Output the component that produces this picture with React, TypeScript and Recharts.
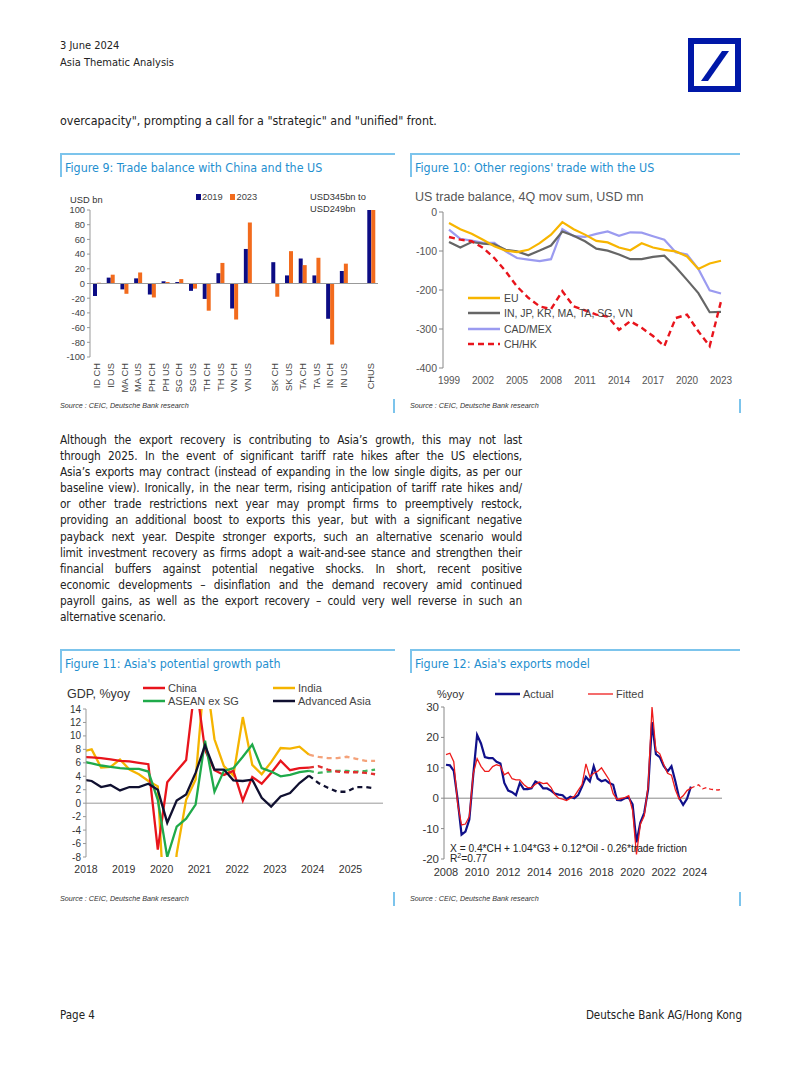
import React from 'react';
import { BarChart, Bar, LineChart, Line, XAxis, YAxis, ReferenceLine } from 'recharts';

const BODY_FONT = "'DejaVu Sans Condensed', 'Liberation Sans', Arial, sans-serif";
const CHART_FONT = "'Liberation Sans', Arial, sans-serif";
const TITLE_BLUE = '#1f8fcf';
const RULE_BLUE = '#7cc4ec';

// ---------- Figure 9 ----------
const fig9Categories = ['ID CH', 'ID US', 'MA CH', 'MA US', 'PH CH', 'PH US', 'SG CH', 'SG US', 'TH CH', 'TH US', 'VN CH', 'VN US', '', 'SK CH', 'SK US', 'TA CH', 'TA US', 'IN CH', 'IN US', '', 'CHUS'];
const fig9Values2019 = [-17, 8, -8, 7, -15, 3, 2, -10, -21, 14, -34, 47, null, 29, 11, 34, 11, -48, 17, null, 345];
const fig9Values2023 = [1, 12, -14, 15, -19, 2, 6, -7, -37, 28, -49, 83, null, -18, 44, 25, 35, -83, 27, null, 249];
const fig9Ticks = [-100, -80, -60, -40, -20, 0, 20, 40, 60, 80, 100];

// ---------- Figure 10 ----------
const fig10Years = ['1999', '2000', '2001', '2002', '2003', '2004', '2005', '2006', '2007', '2008', '2009', '2010', '2011', '2012', '2013', '2014', '2015', '2016', '2017', '2018', '2019', '2020', '2021', '2022', '2023'];
const fig10EU = [-28, -44, -56, -71, -88, -99, -103, -97, -80, -58, -26, -44, -58, -74, -78, -91, -98, -80, -91, -97, -101, -114, -146, -132, -125];
const fig10Asia = [-77, -91, -77, -81, -83, -97, -101, -111, -99, -86, -50, -61, -75, -94, -99, -109, -121, -121, -115, -112, -141, -174, -208, -257, -256];
const fig10CadMex = [-45, -69, -73, -79, -79, -101, -118, -122, -126, -121, -44, -62, -64, -56, -50, -61, -52, -53, -62, -71, -103, -109, -146, -201, -209];
const fig10ChHk = [-64, -71, -75, -92, -118, -152, -191, -220, -242, -249, -203, -242, -252, -263, -268, -302, -280, -297, -318, -344, -272, -263, -306, -344, -229];
const fig10Ticks = [-400, -300, -200, -100, 0];

// ---------- Figure 11 ----------
const fig11StartYear = 2018;
const fig11QuarterCount = 32;
const fig11ForecastStart = 24;
const fig11ChinaActual = [6.9, 6.8, 6.7, 6.5, 6.3, 6.2, 6.0, 5.8, -6.9, 3.1, 4.8, 6.4, 18.3, 7.9, 4.9, 4.2, 4.8, 0.4, 3.9, 2.9, 4.5, 6.3, 4.9, 5.2, 5.3];
const fig11ChinaForecast = [5.3, 5.5, 5.0, 4.7, 4.6, 4.6, 4.5, 4.3];
const fig11IndiaActual = [7.7, 8.0, 5.3, 5.4, 6.5, 5.0, 4.3, 3.3, 2.5, -23.9, -7.5, 0.5, 3.5, 20.1, 9.5, 5.5, 4.1, 12.8, 5.7, 4.3, 6.1, 8.2, 8.1, 8.4, 7.2];
const fig11IndiaForecast = [7.2, 6.9, 6.7, 6.7, 6.9, 6.6, 6.3, 6.3];
const fig11AseanActual = [6.2, 5.9, 5.6, 5.4, 5.2, 5.1, 5.1, 4.7, 0.5, -8.0, -3.5, -2.3, -0.2, 9.3, 1.7, 4.8, 5.2, 6.9, 8.7, 5.2, 4.7, 4.0, 4.2, 4.6, 4.8];
const fig11AseanForecast = [4.8, 4.5, 4.7, 4.8, 4.8, 4.7, 4.8, 5.0];
const fig11AdvActual = [3.5, 3.3, 2.4, 2.7, 1.9, 2.4, 2.4, 2.9, 2.0, -2.9, 0.4, 1.3, 4.5, 8.6, 5.0, 5.0, 3.4, 3.3, 3.5, 0.8, -0.5, 1.0, 1.5, 3.0, 4.1];
const fig11AdvForecast = [4.1, 3.0, 2.3, 1.7, 1.7, 2.4, 2.4, 2.2];
const fig11YearTicks = [2018, 2019, 2020, 2021, 2022, 2023, 2024, 2025];
const fig11YTicks = [-8, -6, -4, -2, 0, 2, 4, 6, 8, 10, 12, 14];

// ---------- Figure 12 ----------
const fig12StartYear = 2008;
const fig12QuarterCount = 72;
const fig12Actual = [11, 10.8, 9, -0.5, -12, -11, -7, 7.5, 20.8, 18, 13.5, 13.2, 13.2, 12, 11.4, 5, 2.5, 2, 1, 5, 3, 3, 3.3, 5.5, 4.8, 3.2, 3.2, 2.5, 1.5, 1.2, 1, -0.3, 0.5, 0, 1, 3.8, 7, 5.5, 10.5, 6.5, 5.6, 6, 5, 4.4, -0.6, -0.7, 0, 0.2, -2, -14.5, -8, -4.8, 3, 25, 14.5, 13.5, 10.6, 8.8, 10.5, 5.6, 0, -2.2, -0.2, 3.8];
const fig12Fitted = [14.3, 14.8, 12, -2, -8.8, -8.5, -6, 8, 13, 10.5, 8.8, 8.8, 10.4, 11, 10.6, 7.7, 8.5, 6.4, 6, 6, 4.5, 3.5, 3.5, 4.6, 5.3, 4.8, 5, 3.6, 1.2, 0, -0.3, -0.8, 0, 0.6, 2.6, 4.5, 11.3, 7, 8.2, 8.8, 10, 8, 6, 1.5, -0.4, -0.1, 0.2, 0.8, -4, -18.5, -8.6, -5.8, 4, 30, 15.6, 14.6, 11.2, 8.2, 7.6, 2.8, -0.3, 0.8, 2.5, 3.3];
const fig12FittedForecast = [3.3, 3.9, 4.4, 3.1, 3.5, 3.0, 2.8, 2.7, 3.0];
const fig12YTicks = [-20, -10, 0, 10, 20, 30];

// ---------- Text ----------
const bodyLines = [
  'Although the export recovery is contributing to Asia\u2019s growth, this may not last',
  'through 2025. In the event of significant tariff rate hikes after the US elections,',
  'Asia\u2019s exports may contract (instead of expanding in the low single digits, as per our',
  'baseline view). Ironically, in the near term, rising anticipation of tariff rate hikes and/',
  'or other trade restrictions next year may prompt firms to preemptively restock,',
  'providing an additional boost to exports this year, but with a significant negative',
  'payback next year. Despite stronger exports, such an alternative scenario would',
  'limit investment recovery as firms adopt a wait-and-see stance and strengthen their',
  'financial buffers against potential negative shocks. In short, recent positive',
  'economic developments \u2013 disinflation and the demand recovery amid continued',
  'payroll gains, as well as the export recovery \u2013 could very well reverse in such an',
  'alternative scenario.',
];

// ---------- Data tables ----------
const fig9Data = fig9Categories.map((c, i) => ({ cat: c, y2019: fig9Values2019[i], y2023: fig9Values2023[i] }));
const fig10Data = fig10Years.map((y, i) => ({ year: y, eu: fig10EU[i], asia: fig10Asia[i], cadmex: fig10CadMex[i], chhk: fig10ChHk[i] }));
const fig11Data = Array.from({ length: fig11QuarterCount }, (_, i) => {
  const f = i - fig11ForecastStart;
  return {
    t: fig11StartYear + i / 4,
    chinaA: i <= fig11ForecastStart ? fig11ChinaActual[i] : null,
    indiaA: i <= fig11ForecastStart ? fig11IndiaActual[i] : null,
    aseanA: i <= fig11ForecastStart ? fig11AseanActual[i] : null,
    advA: i <= fig11ForecastStart ? fig11AdvActual[i] : null,
    chinaF: f >= 0 ? fig11ChinaForecast[f] : null,
    indiaF: f >= 0 ? fig11IndiaForecast[f] : null,
    aseanF: f >= 0 ? fig11AseanForecast[f] : null,
    advF: f >= 0 ? fig11AdvForecast[f] : null,
  };
});
const fig12Data = Array.from({ length: fig12QuarterCount }, (_, i) => {
  const f = i - (fig12Actual.length - 1);
  return {
    q: `${fig12StartYear + Math.floor(i / 4)}Q${(i % 4) + 1}`,
    actual: i < fig12Actual.length ? fig12Actual[i] : null,
    fitted: i < fig12Fitted.length ? fig12Fitted[i] : null,
    fittedF: f >= 0 ? fig12FittedForecast[f] : null,
  };
});

// ---------- Helpers ----------
type TProps = { x: number; y: number; size: number; children: React.ReactNode; color?: string; family?: string; italic?: boolean; right?: boolean };
function T({ x, y, size, children, color = '#222', family = BODY_FONT, italic = false, right = false }: TProps) {
  const lh = Math.round(size * 1.25);
  const style: React.CSSProperties = {
    position: 'absolute', top: y - lh / 2, fontSize: size, lineHeight: lh + 'px', whiteSpace: 'nowrap',
    color, fontFamily: family, fontStyle: italic ? 'italic' : 'normal',
  };
  if (right) style.right = 802 - x; else style.left = x;
  return <div style={style}>{children}</div>;
}

function FigTitle({ x, y, w, text }: { x: number; y: number; w: number; text: string }) {
  return (
    <>
      <div style={{ position: 'absolute', left: x, top: y, width: w, height: 1.5, background: RULE_BLUE }} />
      <div style={{ position: 'absolute', left: x, top: y, width: 2, height: 24, background: RULE_BLUE }} />
      <T x={x + 5} y={y + 15} size={12.4} color={TITLE_BLUE}>{text}</T>
    </>
  );
}

function Source({ x, y, barX }: { x: number; y: number; barX: number }) {
  return (
    <>
      <T x={x} y={y} size={7.2} italic color="#333" family={CHART_FONT}>Source : CEIC, Deutsche Bank research</T>
      <div style={{ position: 'absolute', left: barX, top: y - 6, width: 2, height: 14, background: RULE_BLUE }} />
    </>
  );
}

function LegendItem({ x, y, w, color, width, dash, label, size, textGap = 4 }: { x: number; y: number; w: number; color: string; width: number; dash?: string; label: string; size: number; textGap?: number }) {
  return (
    <>
      <svg style={{ position: 'absolute', left: x, top: y - 3, overflow: 'visible' }} width={w} height={6}>
        <line x1={0} y1={3} x2={w} y2={3} stroke={color} strokeWidth={width} strokeDasharray={dash} />
      </svg>
      <T x={x + w + textGap} y={y} size={size} color="#444" family={CHART_FONT}>{label}</T>
    </>
  );
}

const Fig9Tick = (props: any) => {
  const { x, y, payload } = props;
  return (
    <text x={0} y={0} dy="0.35em" transform={`translate(${x},${y}) rotate(-90)`} textAnchor="end" fontSize={9.3} fill="#444" fontFamily={CHART_FONT}>
      {payload.value}
    </text>
  );
};

export default function App() {
  return (
    <div style={{ position: 'absolute', left: 0, top: 0, width: 802, height: 1068, background: '#fff', overflow: 'hidden', fontFamily: BODY_FONT }}>
      {/* Header */}
      <T x={60} y={46} size={11} color="#222">3 June 2024</T>
      <T x={60} y={63} size={11} color="#222">Asia Thematic Analysis</T>
      <svg style={{ position: 'absolute', left: 688, top: 38 }} width={54} height={55}>
        <rect x={3} y={3} width={47} height={48} fill="none" stroke="#0018a8" strokeWidth={6} />
        <polygon points="13,43 20,43 41,13 34,13" fill="#0018a8" />
      </svg>
      <T x={60} y={121} size={12.4}>overcapacity&quot;, prompting a call for a &quot;strategic&quot; and &quot;unified&quot; front.</T>

      {/* Figure 9 */}
      <FigTitle x={60} y={153} w={335} text="Figure 9: Trade balance with China and the US" />
      <T x={70} y={200} size={9.3} color="#333" family={CHART_FONT}>USD bn</T>
      <div style={{ position: 'absolute', left: 196, top: 194, width: 4.5, height: 5.5, background: '#0c0c84' }} />
      <T x={202} y={197} size={9.3} color="#444" family={CHART_FONT}>2019</T>
      <div style={{ position: 'absolute', left: 230, top: 194, width: 4.5, height: 5.5, background: '#f26b1d' }} />
      <T x={236.5} y={197} size={9.3} color="#444" family={CHART_FONT}>2023</T>
      <T x={310} y={197} size={9.3} color="#333" family={CHART_FONT}>USD345bn to</T>
      <T x={310} y={208.5} size={9.3} color="#333" family={CHART_FONT}>USD249bn</T>
      <div style={{ position: 'absolute', left: 55, top: 185, fontFamily: CHART_FONT }}>
        <BarChart width={335} height={215} data={fig9Data} margin={{ top: 25, right: 12, bottom: 5, left: 5 }} barGap={0} barSize={4}>
          <YAxis width={30} domain={[-100, 100]} ticks={fig9Ticks} interval={0} allowDataOverflow tick={{ fontSize: 9.3, fill: '#444' }} axisLine={{ stroke: '#999' }} tickLine={{ stroke: '#999' }} tickSize={3} />
          <XAxis dataKey="cat" interval={0} height={38} axisLine={false} tickLine={false} tickSize={0} tickMargin={6} tick={Fig9Tick} />
          <ReferenceLine y={0} stroke="#999" />
          <Bar dataKey="y2019" fill="#0c0c84" isAnimationActive={false} />
          <Bar dataKey="y2023" fill="#f26b1d" isAnimationActive={false} />
        </BarChart>
      </div>
      <Source x={60} y={405} barX={393} />

      {/* Figure 10 */}
      <FigTitle x={410} y={153} w={330} text="Figure 10: Other regions' trade with the US" />
      <T x={415} y={197} size={12.5} color="#555" family={CHART_FONT}>US trade balance, 4Q mov sum, USD mn</T>
      <div style={{ position: 'absolute', left: 405, top: 200, fontFamily: CHART_FONT }}>
        <LineChart width={345} height={195} data={fig10Data} margin={{ top: 12, right: 23, bottom: 5, left: 4 }}>
          <YAxis width={34} domain={[-400, 0]} ticks={fig10Ticks} interval={0} tick={{ fontSize: 10.5, fill: '#555' }} axisLine={{ stroke: '#888' }} tickLine={{ stroke: '#888' }} tickSize={4} />
          <XAxis dataKey="year" interval={2} padding={{ left: 6, right: 6 }} height={22} axisLine={false} tickLine={false} tickSize={0} tickMargin={9} tick={{ fontSize: 10, fill: '#555' }} />
          <Line type="linear" dataKey="cadmex" stroke="#9b9bf0" strokeWidth={2.2} dot={false} activeDot={false} isAnimationActive={false} />
          <Line type="linear" dataKey="asia" stroke="#666666" strokeWidth={2.2} dot={false} activeDot={false} isAnimationActive={false} />
          <Line type="linear" dataKey="eu" stroke="#f7b500" strokeWidth={2.2} dot={false} activeDot={false} isAnimationActive={false} />
          <Line type="linear" dataKey="chhk" stroke="#e8141c" strokeWidth={2.4} strokeDasharray="6 4" dot={false} activeDot={false} isAnimationActive={false} />
        </LineChart>
      </div>
      <LegendItem x={468} y={298} w={32} color="#f7b500" width={2.5} label="EU" size={10.5} />
      <LegendItem x={468} y={313} w={32} color="#666666" width={2.5} label="IN, JP, KR, MA, TA, SG, VN" size={10.5} />
      <LegendItem x={468} y={329} w={32} color="#9b9bf0" width={2.5} label="CAD/MEX" size={10.5} />
      <LegendItem x={468} y={344} w={32} color="#e8141c" width={2.5} dash="6 4" label="CH/HK" size={10.5} />
      <Source x={410} y={405} barX={739} />

      {/* Body text */}
      <div style={{ position: 'absolute', left: 60, top: 432, width: 462, fontSize: 11.8, letterSpacing: '-0.15px', lineHeight: '16.1px', fontFamily: BODY_FONT, color: '#222' }}>
        {bodyLines.map((l, i) => (
          <div key={i} style={{ whiteSpace: 'nowrap', textAlign: 'justify', textAlignLast: i < bodyLines.length - 1 ? 'justify' : 'left' }}>{l}</div>
        ))}
      </div>

      {/* Figure 11 */}
      <FigTitle x={60} y={649} w={335} text="Figure 11: Asia's potential growth path" />
      <T x={67} y={694} size={12.5} color="#333" family={CHART_FONT}>GDP, %yoy</T>
      <LegendItem x={143} y={688} w={22} color="#e8141c" width={2.5} label="China" size={11} textGap={3} />
      <LegendItem x={273} y={688} w={22} color="#f5b400" width={2.5} label="India" size={11} textGap={3} />
      <LegendItem x={143} y={701} w={22} color="#1faa4a" width={2.5} label="ASEAN ex SG" size={11} textGap={3} />
      <LegendItem x={273} y={701} w={22} color="#101030" width={2.5} label="Advanced Asia" size={11} textGap={3} />
      <div style={{ position: 'absolute', left: 55, top: 700, fontFamily: CHART_FONT }}>
        <LineChart width={335} height={185} data={fig11Data} margin={{ top: 9, right: 7, bottom: 6, left: 4 }}>
          <YAxis width={27} domain={[-8, 14]} ticks={fig11YTicks} interval={0} allowDataOverflow tick={{ fontSize: 10, fill: '#333' }} axisLine={{ stroke: '#999' }} tickLine={{ stroke: '#999' }} tickSize={3} />
          <XAxis dataKey="t" type="number" domain={[fig11StartYear + 0.1, 2025.96]} allowDataOverflow ticks={fig11YearTicks.map((y) => y + 0.1)} interval={0} tickFormatter={(v: number) => String(Math.floor(v))} height={22} axisLine={false} tickLine={false} tickSize={0} tickMargin={9} tick={{ fontSize: 10.5, fill: '#333' }} />
          <ReferenceLine y={0} stroke="#999" />
          <Line type="linear" dataKey="indiaF" stroke="#f4a27a" strokeWidth={2.3} strokeDasharray="5 4" dot={false} activeDot={false} isAnimationActive={false} />
          <Line type="linear" dataKey="aseanF" stroke="#3cb45a" strokeWidth={2.3} strokeDasharray="5 4" dot={false} activeDot={false} isAnimationActive={false} />
          <Line type="linear" dataKey="chinaF" stroke="#e03030" strokeWidth={2.3} strokeDasharray="5 4" dot={false} activeDot={false} isAnimationActive={false} />
          <Line type="linear" dataKey="advF" stroke="#101030" strokeWidth={2.3} strokeDasharray="5 4" dot={false} activeDot={false} isAnimationActive={false} />
          <Line type="linear" dataKey="indiaA" stroke="#f5b400" strokeWidth={2.3} dot={false} activeDot={false} isAnimationActive={false} />
          <Line type="linear" dataKey="chinaA" stroke="#e8141c" strokeWidth={2.3} dot={false} activeDot={false} isAnimationActive={false} />
          <Line type="linear" dataKey="aseanA" stroke="#1faa4a" strokeWidth={2.3} dot={false} activeDot={false} isAnimationActive={false} />
          <Line type="linear" dataKey="advA" stroke="#101030" strokeWidth={2.3} dot={false} activeDot={false} isAnimationActive={false} />
        </LineChart>
      </div>
      <Source x={60} y={898} barX={393} />

      {/* Figure 12 */}
      <FigTitle x={410} y={649} w={330} text="Figure 12: Asia's exports model" />
      <T x={437} y={694} size={11} color="#333" family={CHART_FONT}>%yoy</T>
      <LegendItem x={495} y={694} w={25} color="#10108a" width={2.5} label="Actual" size={11} textGap={3} />
      <LegendItem x={588} y={694} w={25} color="#ee1c1c" width={1.3} label="Fitted" size={11} textGap={3} />
      <div style={{ position: 'absolute', left: 405, top: 700, fontFamily: CHART_FONT }}>
        <LineChart width={330} height={185} data={fig12Data} margin={{ top: 7, right: 13, bottom: 4, left: 4 }}>
          <YAxis width={35} domain={[-20, 30]} ticks={fig12YTicks} interval={0} tick={{ fontSize: 11.5, fill: '#333' }} axisLine={{ stroke: '#888' }} tickLine={{ stroke: '#888' }} tickSize={3} />
          <XAxis dataKey="q" interval={7} padding={{ left: 2, right: 0 }} tickFormatter={(v: string) => v.slice(0, 4)} height={22} axisLine={false} tickLine={false} tickSize={0} tickMargin={9} tick={{ fontSize: 11, fill: '#333' }} />
          <ReferenceLine y={0} stroke="#888" />
          <Line type="linear" dataKey="actual" stroke="#10108a" strokeWidth={2.2} dot={false} activeDot={false} isAnimationActive={false} />
          <Line type="linear" dataKey="fitted" stroke="#ee1c1c" strokeWidth={1.3} dot={false} activeDot={false} isAnimationActive={false} />
          <Line type="linear" dataKey="fittedF" stroke="#ee1c1c" strokeWidth={1.3} strokeDasharray="4 3" dot={false} activeDot={false} isAnimationActive={false} />
        </LineChart>
      </div>
      <T x={450} y={848} size={10.2} color="#222" family={CHART_FONT}>X = 0.4*CH + 1.04*G3 + 0.12*Oil - 0.26*trade friction</T>
      <T x={450} y={858} size={10.2} color="#222" family={CHART_FONT}>R<sup style={{ fontSize: 7, verticalAlign: 'top', lineHeight: '8px' }}>2</sup>=0.77</T>
      <Source x={410} y={898} barX={739} />

      {/* Footer */}
      <T x={60} y={1015} size={11.5} color="#222">Page 4</T>
      <T x={742} y={1015} size={11.5} color="#222" right>Deutsche Bank AG/Hong Kong</T>
    </div>
  );
}
